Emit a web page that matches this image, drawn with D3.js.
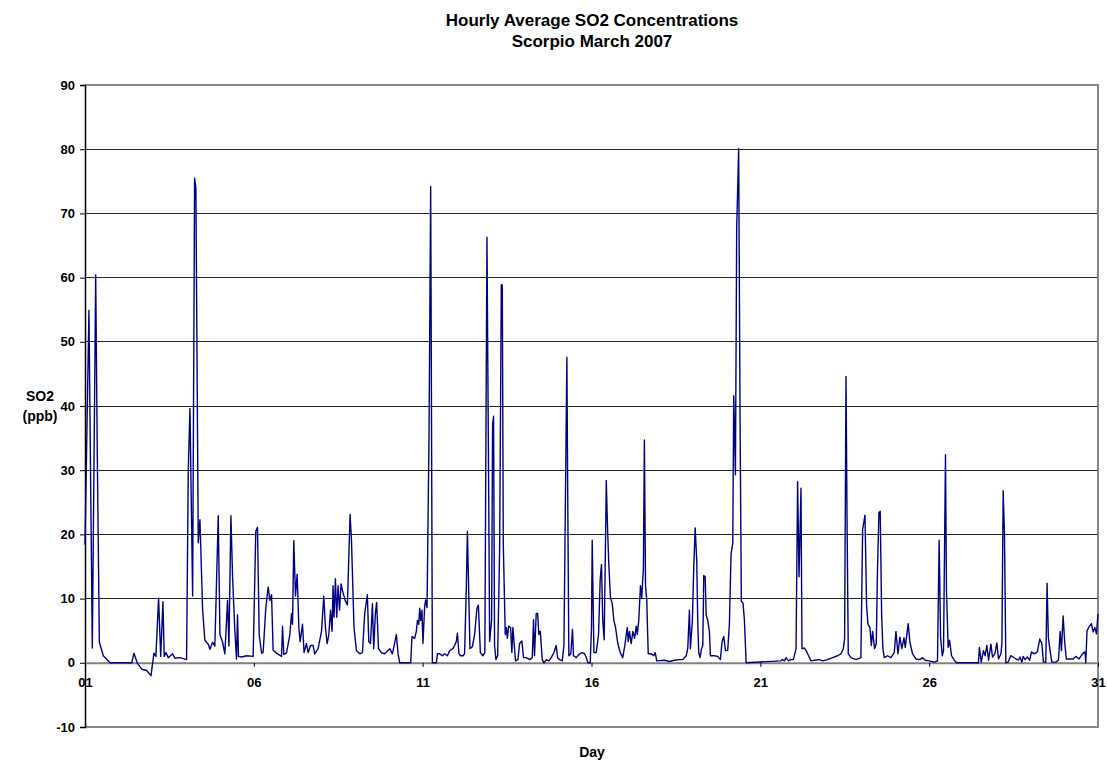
<!DOCTYPE html>
<html>
<head>
<meta charset="utf-8">
<script src="https://cdn.jsdelivr.net/npm/d3@7"></script>
<style>
  body { margin: 0; background: #fff; }
  svg text { font-family: Arial, "Liberation Sans", sans-serif; font-weight: bold; fill: #000; }
</style>
</head>
<body>
<svg id="chart" width="1107" height="763"></svg>
<script>
// hourly SO2 readings (hour since 01 March 00:00, ppb)
const days01to03 = [
  [0, 18.4], [2.8, 54.9], [5.2, 2.3], [7.6, 60.4], [8.7, 33.3], [10.2, 3.2], [13.0, 1.1], [17.8, 0],
  [33.2, 0], [34.8, 1.5], [37.1, 0], [40.3, -1], [43.8, -1.2], [46.9, -2], [49.0, 1.5], [50.4, 1.0],
  [52.3, 10.1], [53.8, 1], [55.4, 9.5], [56.3, 1], [57.5, 1.6], [59.2, 0.8], [62.3, 1.4], [63.9, 0.7],
  [67.5, 0.8], [72.2, 0.5], [73.4, 30], [74.6, 39.6], [76.5, 10.4], [77.9, 75.5], [78.8, 74],
  [80.5, 18.7], [81.7, 22.3], [83.6, 8.2], [85.2, 3.5], [87.6, 2.9], [88.8, 2.1], [90.7, 3.2],
  [92.3, 2.6], [94.7, 22.9], [95.9, 4.4], [97.8, 3.2], [99.4, 1.4], [101.3, 9.7], [102.3, 2.6],
  [103.7, 22.9], [104.9, 13.3], [106.5, 5], [107.7, 0.6], [108.4, 7.5], [109.1, 1], [111.3, 0.9],
  [114.8, 1.1], [119.5, 1], [121.4, 20.5], [122.6, 21.1], [123.8, 4.4], [125.5, 1.5], [126.6, 1.6],
  [128.5, 8.5], [130.2, 11.8], [131.4, 9.7], [132.6, 10.6], [133.7, 2], [136.1, 1.5]
];
const days06to11 = [
  [139.7, 1], [140.4, 5.7], [141.3, 1.3], [143.2, 1.5], [145.6, 4.4], [146.8, 7.7], [147.5, 6],
  [148.4, 19], [149.6, 10.4], [150.8, 13.8], [152.0, 5.5], [152.9, 3.3], [154.6, 6], [155.7, 1.6],
  [157.4, 3], [158.6, 1.6], [160.3, 2.7], [162.1, 2.7], [163.3, 1.4], [165.7, 2.2], [168.1, 4.9],
  [169.7, 10.4], [170.9, 5.5], [172.1, 3], [173.3, 4.4], [174.5, 8.2], [175.6, 4.9], [176.3, 12],
  [177.0, 7.1], [178.0, 13.1], [178.9, 7.1], [179.9, 12], [180.9, 8.2], [182.0, 12.3], [183.4, 10.9],
  [185.1, 9.6], [186.5, 9], [188.4, 23.1], [189.4, 19.1], [191.2, 5.5], [192.9, 1.9], [195.3, 1.4],
  [197.2, 1.6], [198.8, 7.7], [200.7, 10.6], [201.7, 3.3], [202.9, 3], [204.3, 9.2], [205.2, 2.2],
  [206.4, 7.7], [207.3, 9.4], [208.6, 2.2], [210.7, 1.6], [213.0, 1.4], [216.6, 2.2], [218.5, 1.4],
  [221.3, 4.4], [222.5, 1.4], [223.7, 0], [231.5, 0], [232.4, 4.1], [234.3, 3.8], [235.5, 4.9],
  [236.3, 6.6], [237.2, 6], [237.9, 8.5], [238.6, 6.6], [239.5, 8.2], [240.2, 3], [241.4, 8.7],
  [242.1, 9.8], [243.1, 8.6], [244.5, 35], [245.7, 74.2], [246.9, 0], [249.7, 0], [250.5, 1.4],
  [252.1, 1.4], [254.0, 1.1], [255.6, 1.4], [257.6, 1.1], [259.2, 1.9]
];
const days11to17 = [
  [261.5, 2.2], [262.7, 2.7], [263.9, 3.3], [264.7, 4.6], [265.8, 1.4], [267.0, 1.1], [268.6, 1.1],
  [269.8, 1.4], [271.0, 11.5], [271.8, 20.5], [272.7, 11.5], [273.6, 2.2], [275.3, 2.5], [276.9, 4.4],
  [278.6, 8.5], [279.6, 9], [281.0, 1.6], [282.8, 1.1], [284.2, 1.6], [285.7, 66.3], [286.7, 34],
  [287.6, 3.3], [289.0, 6.6], [289.7, 37.2], [290.4, 38.4], [291.1, 2.7], [292.1, 0.5], [293.3, 1.1],
  [294.7, 17.5], [295.9, 58.9], [296.6, 58.8], [297.3, 18.6], [298.7, 4.4], [299.5, 5.5], [300.2, 3.8],
  [301.1, 5.7], [302.5, 5.5], [303.4, 1.6], [304.1, 5.5], [305.3, 2.2], [306.0, 0.3], [307.7, 0.5],
  [308.9, 3], [310.5, 3.4], [311.7, 0.8], [313.6, 0.8], [316.0, 0.5], [317.9, 0.8], [318.8, 6.7],
  [319.5, 1.1], [320.7, 7.7], [321.7, 7.7], [322.6, 4.4], [323.6, 4.9], [325.0, 0.5], [326.2, 0],
  [327.9, 0.5], [329.7, 0.3], [331.4, 0.8], [333.3, 1.6], [334.9, 2.7], [335.9, 0.8], [337.3, 0.5],
  [339.2, 0.3], [340.4, 2.7], [341.1, 17.5], [342.5, 47.6], [343.2, 23], [343.9, 1.1], [345.3, 1.4],
  [346.5, 5.2], [347.2, 1.1], [349.2, 0.8], [351.5, 1.4], [353.4, 1.6], [355.1, 1.4], [356.3, 0.8],
  [357.4, 0], [359.1, 0], [360.0, 5.5], [360.5, 19.1], [361.7, 1.6], [363.4, 1.6], [365.0, 4.4],
  [366.2, 13.1], [367.1, 15.3], [368.0, 6.6], [369.0, 3.6], [369.7, 14.5], [370.5, 28.4], [371.4, 21],
  [372.3, 15.3], [373.5, 10.1], [374.7, 9.3], [375.9, 6.6], [377.1, 5.5], [378.7, 3], [380.4, 1.6],
  [382.2, 0.8], [383.7, 2.7], [385.4, 5.5], [386.1, 3.3], [387.0, 4.9], [388.2, 3], [389.4, 4.9],
  [390.6, 3.8], [391.8, 5.7], [392.5, 4.4], [393.6, 6.6], [394.8, 12], [395.7, 10.1], [396.9, 14.8],
  [397.6, 34.7], [398.4, 12], [399.3, 9.6], [400.3, 1.4], [402.4, 1.4], [404.3, 1.1], [405.3, 1.6],
  [406.4, 0.3]
];
const days18to24 = [
  [411.8, 0.4], [415.4, 0.2], [418.9, 0.4], [422.5, 0.5], [424.9, 0.5], [427.3, 1.1], [428.4, 2.2],
  [429.6, 8.2], [430.3, 2.2], [431.7, 6.6], [432.7, 15], [433.7, 21], [434.8, 15.9], [435.5, 6.6],
  [436.2, 1.6], [437.2, 0.8], [438.2, 2.2], [439.1, 2.7], [439.8, 13.6], [440.8, 13.4], [441.5, 7.4],
  [442.6, 6.6], [443.8, 4.9], [444.5, 1.1], [447.4, 1.1], [449.7, 1], [451.6, 0.5], [452.8, 3.3],
  [454.0, 4.1], [455.2, 1.9], [456.8, 1.9], [458.0, 6], [459.2, 17], [460.4, 18.6], [461.1, 41.6],
  [462.3, 29.3], [463.2, 67.8], [464.6, 80.1], [465.6, 37.7], [466.5, 9.6], [467.7, 9.3], [468.7, 6.6],
  [469.9, 0], [494.7, 0.3], [495.6, 0.5], [497.1, 0.3], [498.3, 0.8], [500.1, 0.3], [501.8, 0.5],
  [503.5, 0.5], [505.4, 2.2], [506.5, 28.2], [507.5, 13.4], [508.9, 27.2], [509.6, 2.2], [511.3, 2.3],
  [512.5, 1.9], [514.3, 1.1], [516.0, 0.3], [518.4, 0.4], [521.9, 0.5], [524.3, 0.3], [527.8, 0.5],
  [531.4, 0.8], [534.9, 1.1], [537.3, 1.4], [539.0, 2.2], [539.9, 3.8], [540.9, 44.6], [541.6, 23],
  [542.5, 1.4], [544.4, 0.8], [548.0, 0.5], [551.5, 0.8]
];
const days24to31 = [
  [552.7, 20.8], [554.4, 23], [555.5, 9], [556.5, 6], [557.9, 5.5], [558.9, 2.7], [559.8, 4.9],
  [561.2, 2.2], [562.4, 3], [563.3, 14.8], [564.3, 23.4], [565.2, 23.6], [566.2, 7.7], [567.1, 2.2],
  [568.1, 0.8], [570.4, 1.1], [572.8, 0.8], [575.2, 1.6], [576.4, 4.9], [577.8, 1.4], [579.2, 4],
  [580.6, 2.2], [582.1, 3.9], [583.0, 2.4], [583.9, 4], [585.1, 6.1], [586.3, 3.2], [588.2, 1.4],
  [590.6, 0.6], [593.4, 0.5], [595.3, 0.8], [597.2, 0.4], [600.0, 0.3], [603.6, 0.1], [605.9, 0.3],
  [607.1, 19.1], [608.1, 4], [609.3, 1.1], [610.2, 1.9], [611.6, 32.4], [612.3, 11.3], [613.5, 2.4],
  [614.5, 3.5], [615.9, 1.1], [617.8, 0.4], [619.4, 0], [635.0, 0], [635.7, 2.4], [637.0, 0.1],
  [638.6, 1.9], [639.8, 1.1], [641.0, 2.7], [642.2, 0.4], [643.9, 2.9], [645.0, 0.9], [646.7, 1.4],
  [648.1, 3.1], [649.3, 0.6], [651.0, 1.4], [651.7, 3], [652.6, 26.8], [653.5, 20.3], [654.5, 0],
  [656.1, 0.1], [658.0, 1.1], [659.7, 0.9], [661.6, 0.6], [663.4, 0.4], [664.6, 0.9], [665.9, 0.1],
  [666.8, 1], [668.2, 0.5], [669.8, 0.9], [671.5, 0.4], [672.7, 1.7], [674.6, 1.4], [676.9, 1.7],
  [678.6, 3.7], [680.1, 3], [681.2, 0.1], [682.9, 0.1], [683.8, 12.4], [684.7, 4], [685.9, 1.9],
  [687.2, 0.1], [690.0, 0.1], [691.9, 0.4], [693.1, 4.9], [694.0, 1.9], [695.2, 7.3], [696.4, 3],
  [697.5, 0.6], [700.0, 0.6], [702.3, 0.6], [704.2, 1], [706.6, 0.6], [708.9, 1.4], [710.8, 1.7],
  [711.3, 0], [712.2, 5], [713.6, 5.6], [715.3, 6.1], [716.5, 4.8], [717.7, 5.5], [718.9, 4.5],
  [720, 7.6]
];

const dayTicks = [1, 6, 11, 16, 21, 26, 31];
const dayLabels = ["01", "06", "11", "16", "21", "26", "31"];
const yTicks = [-10, 0, 10, 20, 30, 40, 50, 60, 70, 80, 90];

const series = [].concat(days01to03, days06to11, days11to17, days18to24, days24to31);

let svg = d3.select("#chart");
const margin = { top: 85, right: 9, bottom: 36, left: 85 };
const width = +svg.attr("width");
const height = +svg.attr("height");
const plotW = width - margin.left - margin.right;
const plotH = height - margin.top - margin.bottom;

const x = d3.scaleLinear().domain([0, 720]).range([0, plotW]);
const y = d3.scaleLinear().domain([-10, 90]).range([plotH, 0]);

// titles
svg.append("text").attr("x", 592).attr("y", 26).attr("text-anchor", "middle")
  .style("font-size", "17px").text("Hourly Average SO2 Concentrations");
svg.append("text").attr("x", 592).attr("y", 47).attr("text-anchor", "middle")
  .style("font-size", "17px").text("Scorpio March 2007");

const g = svg.append("g").attr("transform", "translate(" + margin.left + "," + margin.top + ")");

// gridlines
g.selectAll(".grid").data(yTicks.filter(d => d > 0 && d < 90)).enter()
  .append("line")
  .attr("x1", 0).attr("x2", plotW)
  .attr("y1", d => y(d)).attr("y2", d => y(d))
  .attr("stroke", "#222").attr("stroke-width", 1)
  .attr("shape-rendering", "crispEdges");

// plot border (top, right, bottom)
g.append("path")
  .attr("d", "M0," + y(90) + "H" + plotW + "V" + y(-10) + "H0")
  .attr("fill", "none").attr("stroke", "#888").attr("stroke-width", 1.5)
  .attr("shape-rendering", "crispEdges");

// y axis
const yAxis = d3.axisLeft(y).tickValues(yTicks).tickFormat(d => String(d))
  .tickSize(5).tickPadding(5);
const yg = g.append("g").call(yAxis);
yg.select(".domain").attr("stroke", "#000").attr("stroke-width", 1.5);
yg.selectAll(".tick line").attr("stroke", "#000");
yg.selectAll("text").style("font-size", "13px").style("font-family", "Arial, 'Liberation Sans', sans-serif");

// x axis sits on zero
const xAxis = d3.axisBottom(x)
  .tickValues(dayTicks.map(d => (d - 1) * 24))
  .tickFormat((d, i) => dayLabels[i])
  .tickSizeInner(4).tickSizeOuter(0).tickPadding(11);
const xg = g.append("g").attr("transform", "translate(0," + y(0) + ")").call(xAxis);
xg.select(".domain").attr("stroke", "#808080").attr("stroke-width", 2);
xg.selectAll(".tick line").attr("stroke", "#000");
xg.selectAll("text").style("font-size", "13px").style("font-family", "Arial, 'Liberation Sans', sans-serif");

// series line
const line = d3.line().x(d => x(d[0])).y(d => y(d[1]));
g.append("path").datum(series)
  .attr("d", line)
  .attr("fill", "none")
  .attr("stroke", "#000080")
  .attr("stroke-width", 1.4)
  .attr("stroke-linejoin", "round");

// axis titles
svg.append("text").attr("x", 40).attr("y", 401).attr("text-anchor", "middle")
  .style("font-size", "14px").text("SO2");
svg.append("text").attr("x", 40).attr("y", 421).attr("text-anchor", "middle")
  .style("font-size", "14px").text("(ppb)");
svg.append("text").attr("x", 592).attr("y", 757).attr("text-anchor", "middle")
  .style("font-size", "14px").text("Day");
</script>
</body>
</html>
